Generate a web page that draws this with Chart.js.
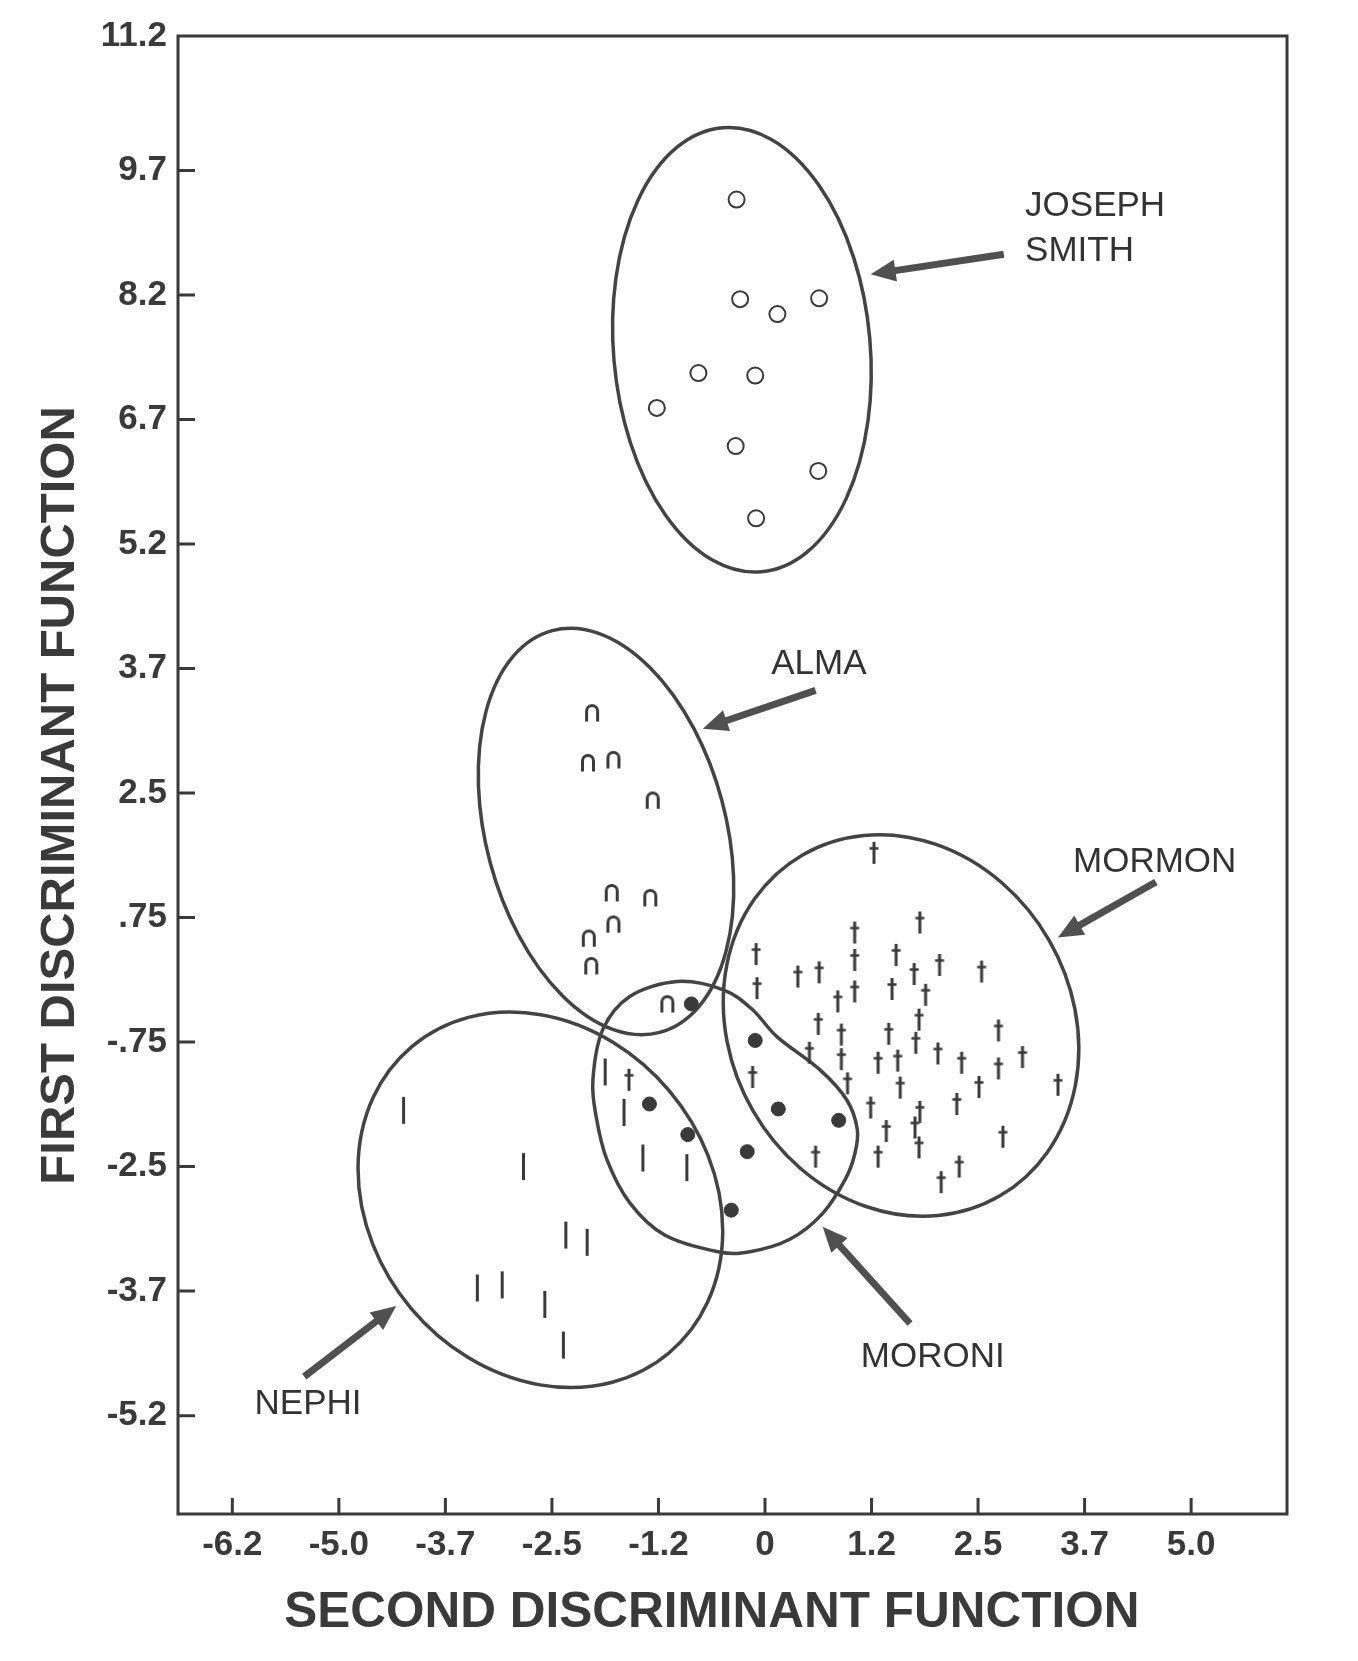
<!DOCTYPE html>
<html>
<head>
<meta charset="utf-8">
<title>First vs second discriminant function</title>
<script src="https://cdn.jsdelivr.net/npm/chart.js@4.4.1/dist/chart.umd.min.js"></script>
<style>
  html, body { margin: 0; padding: 0; background: #fff; }
  #wrap { width: 1358px; height: 1661px; }
</style>
</head>
<body>
<div id="wrap"><canvas id="myChart" width="1358" height="1661" role="img" aria-label="discriminant plot"></canvas></div>
<script>
// axis ticks as printed (they are evenly spaced on the page, not in value)
const xTickLabels = ['-6.2', '-5.0', '-3.7', '-2.5', '-1.2', '0', '1.2', '2.5', '3.7', '5.0'];
const xTickValues = [-6.2, -5.0, -3.7, -2.5, -1.2, 0, 1.2, 2.5, 3.7, 5.0];
const yTickLabels = ['-5.2', '-3.7', '-2.5', '-.75', '.75', '2.5', '3.7', '5.2', '6.7', '8.2', '9.7', '11.2'];
const yTickValues = [-5.2, -3.7, -2.5, -0.75, 0.75, 2.5, 3.7, 5.2, 6.7, 8.2, 9.7, 11.2];

// Joseph Smith - open circles
const josephX = [-0.32, -0.28, 0.14, 0.61, -0.75, -0.11, -1.22, -0.33, 0.60, -0.10];
const josephY = [9.35, 8.15, 7.97, 8.16, 7.26, 7.23, 6.84, 6.38, 6.08, 5.51];

// Alma - arches
const almaX = [-2.01, -2.06, -1.75, -1.27, -1.77, -1.30, -1.75, -2.05, -2.02, -1.10];
const almaY = [3.28, 2.80, 2.83, 2.41, 1.11, 1.04, 0.68, 0.51, 0.18, -0.28];

// Mormon - daggers
const mormonX = [1.23, 1.79, 1.01, -0.10, 1.50, 1.01, 2.03, 2.54, 0.37, 0.61,
                 1.72, -0.09, 1.01, 1.45, 0.82, 1.86, 1.78, 0.60, 0.86, 1.41,
                 2.73, 1.74, 0.50, 0.86, 1.28, 1.52, 2.01, 2.30, 2.73, 3.00,
                 -0.14, 0.93, 1.55, 2.51, 3.40, 1.19, 1.79, 2.24, 1.38, 1.73,
                 2.78, 1.78, 0.57, 1.28, 2.27, 2.05, -1.56];
const mormonY = [1.66, 0.69, 0.57, 0.31, 0.30, 0.24, 0.18, 0.10, 0.04, 0.09,
                 0.07, -0.10, -0.14, -0.11, -0.26, -0.18, -0.48, -0.53, -0.66, -0.65,
                 -0.61, -0.76, -0.90, -0.99, -1.04, -1.01, -0.91, -1.04, -1.12, -0.96,
                 -1.24, -1.33, -1.39, -1.38, -1.35, -1.67, -1.73, -1.62, -2.00, -1.95,
                 -2.08, -2.23, -2.36, -2.36, -2.50, -2.65, -1.28];

// Nephi - vertical bars
const nephiX = [-4.21, -2.82, -2.33, -2.07, -3.34, -3.06, -2.58, -2.36, -1.85, -1.62, -1.39, -0.88];
const nephiY = [-1.71, -2.50, -3.16, -3.23, -3.67, -3.64, -3.86, -4.35, -1.17, -1.74, -2.38, -2.51];

// Moroni - filled dots
const moroniX = [-0.83, -0.11, -1.31, -0.87, 0.15, 0.83, -0.20, -0.38];
const moroniY = [-0.29, -0.73, -1.62, -2.05, -1.69, -1.85, -2.29, -2.92];

// group ellipses: Joseph Smith, Alma, Mormon, Nephi (centre in axis units, radii in tick steps)
const ellipseCx = [-0.26, -1.84, 1.56, -2.63];
const ellipseCy = [7.54, 1.96, -0.55, -2.82];
const ellipseRx = [1.205, 1.126, 1.604, 1.585];
const ellipseRy = [1.790, 1.670, 1.582, 1.606];
const ellipseTilt = [-5, -15, -30, -40];

// Moroni boundary is not an ellipse - traced outline
const moroniEdgeX = [-1.88, -1.55, -0.99, -0.47, -0.14, 0.14, 0.62, 0.92, 1.04, 1.01,
                     0.90, 0.64, 0.28, -0.17, -0.53, -1.13, -1.55, -1.83, -1.96, -2.00];
const moroniEdgeY = [-0.60, -0.20, -0.02, -0.12, -0.36, -0.69, -1.14, -1.56, -1.98, -2.33,
                     -2.63, -2.96, -3.20, -3.32, -3.32, -3.16, -2.85, -2.40, -1.80, -1.28];

// callout labels and their arrows (tail -> tip)
const calloutText = [['JOSEPH', 'SMITH'], ['ALMA'], ['MORMON'], ['MORONI'], ['NEPHI']];
const calloutX = [3.03, 0.07, 3.57, 1.08, -5.95];
const calloutY = [9.27, 3.75, 1.53, -4.50, -5.07];
const arrowFromX = [2.79, 0.57, 4.57, 1.67, -5.39];
const arrowFromY = [8.69, 3.49, 1.25, -4.09, -4.73];
const arrowToX = [1.19, -0.70, 3.40, 0.65, -4.30];
const arrowToY = [8.45, 3.12, 0.51, -3.08, -3.88];

// page positions of the ticks, in tick steps (top label sits on the frame)
const xSteps = xTickValues.map((v, i) => i);
const ySteps = yTickValues.map((v, i) => (i === yTickValues.length - 1 ? 11.08 : i));

function toStep(v, values, steps) {
  for (let i = 0; i < values.length - 1; i++) {
    if (v <= values[i + 1] || i === values.length - 2) {
      const t = (v - values[i]) / (values[i + 1] - values[i]);
      return steps[i] + t * (steps[i + 1] - steps[i]);
    }
  }
}
const sx = (v) => toStep(v, xTickValues, xSteps);
const sy = (v) => toStep(v, yTickValues, ySteps);
const points = (xs, ys) => xs.map((x, i) => ({ x: sx(x), y: sy(ys[i]) }));

const INK = '#3a3a3a';

// little glyph markers
function makeArch() {
  const c = document.createElement('canvas');
  c.width = 18; c.height = 20;
  const g = c.getContext('2d');
  g.strokeStyle = INK; g.lineWidth = 3;
  g.beginPath();
  g.moveTo(3.5, 19.5); g.lineTo(3.5, 9);
  g.arc(9, 9, 5.5, Math.PI, 0);
  g.lineTo(14.5, 19.5);
  g.stroke();
  return c;
}
function makeDagger() {
  const c = document.createElement('canvas');
  c.width = 12; c.height = 24;
  const g = c.getContext('2d');
  g.strokeStyle = INK;
  g.lineWidth = 3;
  g.beginPath(); g.moveTo(6, 1); g.lineTo(6, 23); g.stroke();
  g.lineWidth = 2.5;
  g.beginPath(); g.moveTo(1.5, 7.5); g.lineTo(10.5, 7.5); g.stroke();
  return c;
}

function drawArrow(ctx, x0, y0, x1, y1) {
  const a = Math.atan2(y1 - y0, x1 - x0);
  const cos = Math.cos(a), sin = Math.sin(a);
  const head = 25, half = 11;
  const bx = x1 - cos * head, by = y1 - sin * head;
  ctx.strokeStyle = '#505050';
  ctx.fillStyle = '#505050';
  ctx.lineWidth = 7;
  ctx.lineCap = 'butt';
  ctx.beginPath(); ctx.moveTo(x0, y0); ctx.lineTo(bx + cos * 2, by + sin * 2); ctx.stroke();
  ctx.beginPath();
  ctx.moveTo(x1, y1);
  ctx.lineTo(bx - sin * half, by + cos * half);
  ctx.lineTo(bx + sin * half, by - cos * half);
  ctx.closePath();
  ctx.fill();
}

function closedSpline(ctx, pts) {
  const n = pts.length;
  ctx.moveTo(pts[0].x, pts[0].y);
  for (let i = 0; i < n; i++) {
    const p0 = pts[(i - 1 + n) % n], p1 = pts[i], p2 = pts[(i + 1) % n], p3 = pts[(i + 2) % n];
    ctx.bezierCurveTo(p1.x + (p2.x - p0.x) / 6, p1.y + (p2.y - p0.y) / 6,
                      p2.x - (p3.x - p1.x) / 6, p2.y - (p3.y - p1.y) / 6, p2.x, p2.y);
  }
  ctx.closePath();
}

const figureDecor = {
  id: 'figureDecor',
  beforeDatasetsDraw(chart) {
    const { ctx, chartArea: ca, scales: { x, y } } = chart;
    const stepX = Math.abs(x.getPixelForValue(1) - x.getPixelForValue(0));
    const stepY = Math.abs(y.getPixelForValue(1) - y.getPixelForValue(0));
    ctx.save();
    // frame
    ctx.strokeStyle = INK;
    ctx.lineWidth = 3;
    ctx.strokeRect(ca.left, ca.top, ca.right - ca.left, ca.bottom - ca.top);
    // inward tick marks
    ctx.beginPath();
    xSteps.forEach((s) => {
      const px = x.getPixelForValue(s);
      ctx.moveTo(px, ca.bottom); ctx.lineTo(px, ca.bottom - 16);
    });
    ySteps.slice(0, -1).forEach((s) => {
      const py = y.getPixelForValue(s);
      ctx.moveTo(ca.left, py); ctx.lineTo(ca.left + 17, py);
    });
    ctx.stroke();
    // group ellipses
    ctx.strokeStyle = '#444';
    ctx.lineWidth = 3.5;
    ellipseCx.forEach((cx, i) => {
      ctx.beginPath();
      ctx.ellipse(x.getPixelForValue(sx(cx)), y.getPixelForValue(sy(ellipseCy[i])),
        ellipseRx[i] * stepX, ellipseRy[i] * stepY, ellipseTilt[i] * Math.PI / 180, 0, Math.PI * 2);
      ctx.stroke();
    });
    // Moroni outline
    const edge = moroniEdgeX.map((v, i) => ({
      x: x.getPixelForValue(sx(v)), y: y.getPixelForValue(sy(moroniEdgeY[i]))
    }));
    ctx.beginPath();
    closedSpline(ctx, edge);
    ctx.stroke();
    ctx.restore();
  },
  afterDraw(chart) {
    const { ctx, scales: { x, y } } = chart;
    ctx.save();
    calloutText.forEach((lines, i) => {
      drawArrow(ctx,
        x.getPixelForValue(sx(arrowFromX[i])), y.getPixelForValue(sy(arrowFromY[i])),
        x.getPixelForValue(sx(arrowToX[i])), y.getPixelForValue(sy(arrowToY[i])));
      ctx.fillStyle = '#333';
      ctx.font = '35px "Liberation Sans", Arial, sans-serif';
      ctx.textAlign = 'left';
      ctx.textBaseline = 'middle';
      const tx = x.getPixelForValue(sx(calloutX[i]));
      const ty = y.getPixelForValue(sy(calloutY[i]));
      lines.forEach((t, k) => ctx.fillText(t, tx, ty + k * 45));
    });
    ctx.restore();
  }
};

Chart.defaults.font.family = '"Liberation Sans", Arial, sans-serif';
Chart.defaults.color = INK;

const tickFont = { size: 35, weight: 'bold' };

const ctx = document.getElementById('myChart').getContext('2d');
const myChart = new Chart(ctx, {
  type: 'scatter',
  data: {
    datasets: [
      { label: 'Joseph Smith', data: points(josephX, josephY), pointStyle: 'circle',
        pointRadius: 8, pointBorderWidth: 2, pointBorderColor: INK, pointBackgroundColor: '#fff' },
      { label: 'Alma', data: points(almaX, almaY), pointStyle: makeArch() },
      { label: 'Mormon', data: points(mormonX, mormonY), pointStyle: makeDagger() },
      { label: 'Nephi', data: points(nephiX, nephiY), pointStyle: 'line', pointRotation: 90,
        pointRadius: 13.5, pointBorderWidth: 3, pointBorderColor: INK },
      { label: 'Moroni', data: points(moroniX, moroniY), pointStyle: 'circle',
        pointRadius: 7, pointBorderWidth: 1, pointBorderColor: INK, pointBackgroundColor: INK }
    ]
  },
  options: {
    responsive: false,
    animation: false,
    events: [],
    layout: { padding: { top: 36, right: 71, left: 0, bottom: 0 } },
    plugins: { legend: { display: false }, tooltip: { enabled: false } },
    scales: {
      x: {
        type: 'linear',
        min: -0.51,
        max: 9.9,
        afterBuildTicks: (s) => { s.ticks = xSteps.map((v) => ({ value: v })); },
        afterFit: (s) => { s.height = 147; },
        grid: { display: false, drawTicks: false },
        border: { display: false },
        ticks: { autoSkip: false, maxRotation: 0, padding: 10, font: tickFont, color: INK,
                 callback: (v, i) => xTickLabels[i] },
        // trailing spaces nudge the centred title left, as on the original page
        title: { display: true, text: 'SECOND DISCRIMINANT FUNCTION   ', color: INK,
                 font: { size: 49.5, weight: 'bold' }, padding: { top: 0, bottom: 18 } }
      },
      y: {
        type: 'linear',
        min: -0.79,
        max: 11.08,
        afterBuildTicks: (s) => { s.ticks = ySteps.map((v) => ({ value: v })); },
        afterFit: (s) => { s.width = 178; },
        grid: { display: false, drawTicks: false },
        border: { display: false },
        ticks: { autoSkip: false, padding: 11, font: tickFont, color: INK,
                 callback: (v, i) => yTickLabels[i] },
        title: { display: true, text: 'FIRST DISCRIMINANT FUNCTION   ', color: INK,
                 font: { size: 49, weight: 'bold' }, padding: { top: 31, bottom: 0 } }
      }
    }
  },
  plugins: [figureDecor]
});
</script>
</body>
</html>
